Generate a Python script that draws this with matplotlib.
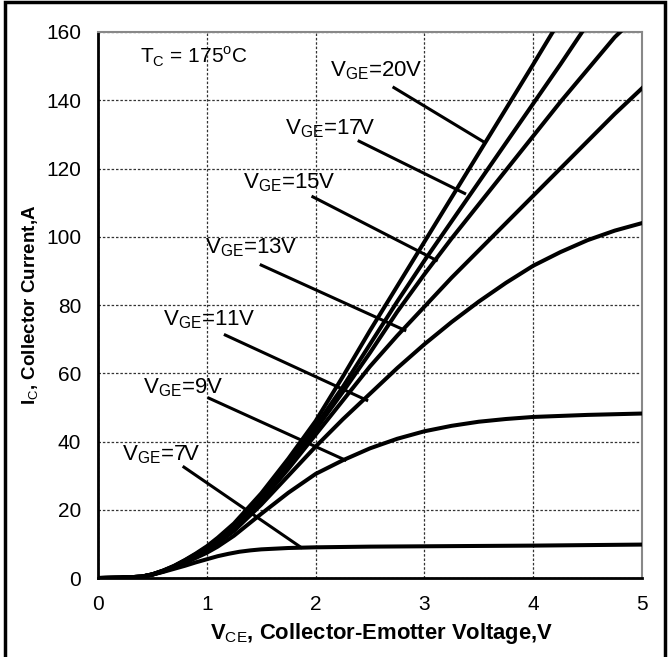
"""
IGBT output characteristics, Tc = 175C
"""

import matplotlib
matplotlib.use('Agg')
import matplotlib.pyplot as plt
from matplotlib.patches import Rectangle

plt.rcParams['font.family'] = ['Liberation Sans', 'DejaVu Sans']
plt.rcParams['mathtext.fontset'] = 'custom'
plt.rcParams['mathtext.rm'] = 'Liberation Sans'
plt.rcParams['mathtext.bf'] = 'Liberation Sans:bold'

# VCE (V) / IC (A)
vce_low = [0, 0.2, 0.4, 0.5, 0.6, 0.7, 0.8, 0.9]
vce_mid = [1.0, 1.1, 1.25, 1.5, 1.75, 2.0, 2.25, 2.5, 2.75, 3.0, 3.25, 3.5, 3.75, 4.0]

vce_20 = vce_low + vce_mid + [4.18]
ic_20 = [0, 0.1, 0.4, 1.1, 2.2, 3.6, 5.3, 7.2,
         9.3, 11.8, 16, 24.8, 35, 46, 59, 72.5, 85.5, 98.5, 111.5, 124.5, 137.5, 150.5, 160]

vce_17 = vce_low + vce_mid + [4.25, 4.45]
ic_17 = [0, 0.1, 0.4, 1.1, 2.2, 3.5, 5.2, 7.0,
         9.0, 11.4, 15.5, 24, 34, 44.5, 56, 68.5, 81, 93, 104.5, 116, 127.5, 139, 150.5, 160]

vce_15 = vce_low + vce_mid + [4.25, 4.5, 4.75, 4.8]
ic_15 = [0, 0.1, 0.4, 1.1, 2.1, 3.4, 5.1, 6.9,
         8.8, 11.0, 15, 23.5, 33, 43.5, 54.5, 66, 78, 89, 99.5, 109.5, 119.5, 129.5,
         139.5, 149, 158.5, 160]

vce_13 = vce_low + vce_mid + [4.25, 4.5, 4.75, 5.0]
ic_13 = [0, 0.1, 0.4, 1.0, 2.1, 3.4, 5.0, 6.7,
         8.5, 10.6, 14.5, 22.5, 32, 42, 52, 62, 71, 79.5, 88, 96, 104, 112,
         120, 128, 136, 143.5]

vce_11 = vce_low + vce_mid + [4.25, 4.5, 4.75, 5.0]
ic_11 = [0, 0.1, 0.4, 1.0, 2.0, 3.3, 4.8, 6.5,
         8.2, 10.2, 13.8, 21.5, 30, 38.5, 46.5, 54, 61.5, 68.5, 75, 81, 86.5, 91.5,
         95.5, 99, 101.8, 104]

vce_9 = vce_low + vce_mid + [4.5, 5.0]
ic_9 = [0, 0.1, 0.4, 1.0, 1.9, 3.1, 4.4, 5.9,
        7.4, 9.2, 12.4, 18.8, 25, 30.5, 34.5, 38, 40.8, 43, 44.6, 45.8, 46.6, 47.2,
        47.8, 48.2]

vce_7 = [0, 0.2, 0.4, 0.5, 0.6, 0.7, 0.8, 0.9, 1.0, 1.1, 1.2, 1.3, 1.4, 1.5,
         1.75, 2.0, 2.5, 3.0, 4.0, 5.0]
ic_7 = [0, 0.1, 0.4, 1.0, 1.8, 2.7, 3.6, 4.6, 5.5, 6.4, 7.1, 7.7, 8.1, 8.4,
        8.8, 9.0, 9.2, 9.3, 9.5, 9.8]

curves = [(vce_20, ic_20), (vce_17, ic_17), (vce_15, ic_15), (vce_13, ic_13),
          (vce_11, ic_11), (vce_9, ic_9), (vce_7, ic_7)]

# label text, label anchor (left, centre), leader start, leader end
vge_labels = ['20V', '17V', '15V', '13V', '11V', '9V', '7V']
label_xy = [(2.13, 148.8), (1.72, 131.8), (1.33, 115.7), (0.98, 96.7),
            (0.60, 75.6), (0.41, 55.7), (0.22, 36.0)]
leader_start = [(2.72, 143.7), (2.40, 128.0), (1.975, 111.7), (1.50, 91.7),
                (1.17, 71.2), (1.02, 52.7), (0.79, 32.5)]
leader_end = [(3.535, 128.0), (3.37, 112.7), (3.11, 93.1), (2.82, 72.6),
              (2.47, 52.1), (2.27, 34.6), (1.865, 9.0)]

x_ticks = [0, 1, 2, 3, 4, 5]
y_ticks = [0, 20, 40, 60, 80, 100, 120, 140, 160]

fig = plt.figure(figsize=(6.69, 6.57), dpi=100)
ax = fig.add_axes([0.1465, 0.1202, 0.8131, 0.8311])

ax.grid(True, color='#333333', linestyle=(0, (2, 1.5)), linewidth=0.9)
ax.set_axisbelow(True)

for v, i in curves:
    ax.plot(v, i, color='black', linewidth=2.9, solid_joinstyle='round', zorder=3)

for lab, (tx, ty), (sx, sy), (ex, ey) in zip(vge_labels, label_xy, leader_start, leader_end):
    ax.plot([sx, ex], [sy, ey], color='black', linewidth=2.2, zorder=3)
    ax.text(tx, ty, r'V$_{\mathrm{GE}}$=' + lab, fontsize=16, ha='left', va='center', zorder=4)

ax.text(0.385, 152.6, r'T$_{\mathrm{C}}$ = 175$^{\mathrm{o}}$C', fontsize=15,
        ha='left', va='center')

ax.set_xlim(0, 5)
ax.set_ylim(0, 160)
ax.set_xticks(x_ticks)
ax.set_yticks(y_ticks)
ax.tick_params(length=0, labelsize=15)
ax.tick_params(axis='x', pad=12)
ax.tick_params(axis='y', pad=12)

for side in ['left', 'bottom']:
    ax.spines[side].set_color('black')
    ax.spines[side].set_linewidth(2.0)
for side in ['top', 'right']:
    ax.spines[side].set_color('#888888')
    ax.spines[side].set_linewidth(1.5)

ax.set_xlabel(r'V$_{\mathrm{CE}}$, Collector-Emotter Voltage,V', fontsize=15.8,
              fontweight='bold')
ax.xaxis.set_label_coords(0.522, -0.079)
ax.set_ylabel(r'I$_{\mathrm{C}}$, Collector Current,A', fontsize=13.5,
              fontweight='bold', labelpad=4)

# outer frame (bottom edge runs off the image)
fig.patches.append(Rectangle((5 / 669, -0.05), 660 / 669, 1.05 - 2 / 657,
                             transform=fig.transFigure, fill=False,
                             edgecolor='black', linewidth=2.5))

fig.savefig('out.png', dpi=100)
